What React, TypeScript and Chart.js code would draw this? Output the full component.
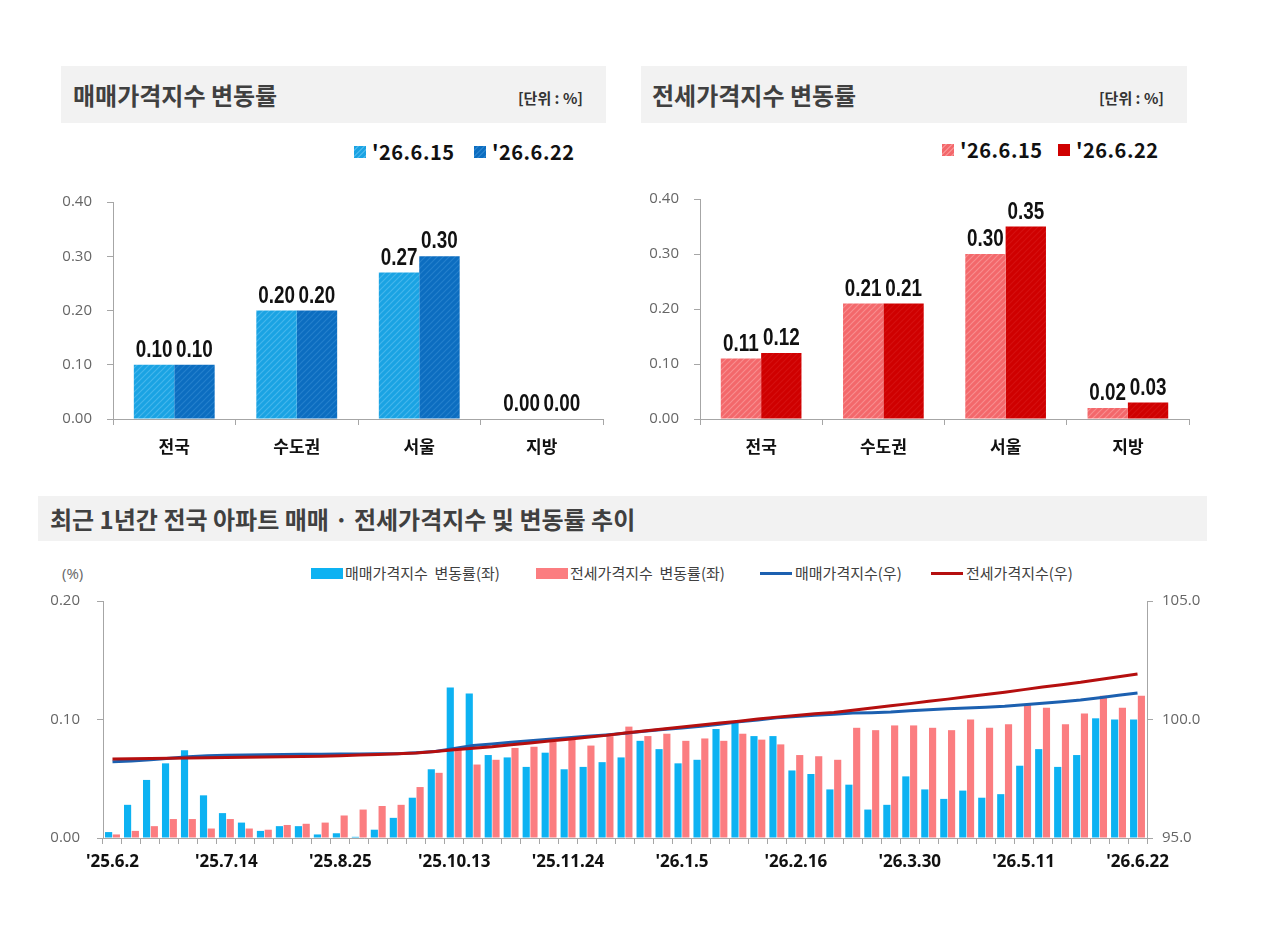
import React, { useEffect, useRef } from "react";
import { Chart, registerables } from "chart.js";

Chart.register(...registerables);

// 지역별 주간 변동률 (%)
const regions = ["전국", "수도권", "서울", "지방"];
const weekLabels = ["'26.6.15", "'26.6.22"];
const salePrevWeek = [0.1, 0.2, 0.27, 0.0];
const saleThisWeek = [0.1, 0.2, 0.3, 0.0];
const jeonsePrevWeek = [0.11, 0.21, 0.3, 0.02];
const jeonseThisWeek = [0.12, 0.21, 0.35, 0.03];

// 최근 1년간 전국 주간 추이
const trendWeeks = [
  "'25.6.2", "'25.6.9", "'25.6.16", "'25.6.23", "'25.6.30", "'25.7.7",
  "'25.7.14", "'25.7.21", "'25.7.28", "'25.8.4", "'25.8.11", "'25.8.18",
  "'25.8.25", "'25.9.1", "'25.9.8", "'25.9.15", "'25.9.22", "'25.9.29",
  "'25.10.13", "'25.10.20", "'25.10.27", "'25.11.3", "'25.11.10", "'25.11.17",
  "'25.11.24", "'25.12.1", "'25.12.8", "'25.12.15", "'25.12.22", "'25.12.29",
  "'26.1.5", "'26.1.12", "'26.1.19", "'26.1.26", "'26.2.2", "'26.2.9",
  "'26.2.16", "'26.2.23", "'26.3.2", "'26.3.9", "'26.3.16", "'26.3.23",
  "'26.3.30", "'26.4.6", "'26.4.13", "'26.4.20", "'26.4.27", "'26.5.4",
  "'26.5.11", "'26.5.18", "'26.5.25", "'26.6.1", "'26.6.8", "'26.6.15",
  "'26.6.22",
];
const trendTickWeeks = [
  "'25.6.2", "'25.7.14", "'25.8.25", "'25.10.13", "'25.11.24",
  "'26.1.5", "'26.2.16", "'26.3.30", "'26.5.11", "'26.6.22",
];
const saleRate = [
  0.005, 0.028, 0.049, 0.063, 0.074, 0.036, 0.021, 0.013, 0.006, 0.01, 0.01,
  0.003, 0.004, 0.001, 0.007, 0.017, 0.034, 0.058, 0.127, 0.122, 0.07, 0.068,
  0.06, 0.072, 0.058, 0.06, 0.064, 0.068, 0.082, 0.075, 0.063, 0.066, 0.092,
  0.097, 0.086, 0.086, 0.057, 0.054, 0.041, 0.045, 0.024, 0.028, 0.052, 0.041,
  0.033, 0.04, 0.034, 0.037, 0.061, 0.075, 0.06, 0.07, 0.101, 0.1, 0.1,
];
const jeonseRate = [
  0.003, 0.006, 0.01, 0.016, 0.016, 0.008, 0.016, 0.008, 0.007, 0.011, 0.012,
  0.013, 0.019, 0.024, 0.027, 0.028, 0.043, 0.055, 0.076, 0.062, 0.066, 0.076,
  0.077, 0.081, 0.083, 0.078, 0.086, 0.094, 0.086, 0.088, 0.082, 0.084, 0.082,
  0.088, 0.083, 0.079, 0.07, 0.069, 0.066, 0.093, 0.091, 0.095, 0.095, 0.093,
  0.091, 0.1, 0.093, 0.096, 0.113, 0.11, 0.096, 0.105, 0.12, 0.11, 0.12,
];
const saleIndex = [
  98.22, 98.25, 98.3, 98.36, 98.43, 98.47, 98.49, 98.5, 98.51, 98.52, 98.53,
  98.53, 98.54, 98.54, 98.55, 98.56, 98.6, 98.65, 98.78, 98.9, 98.97, 99.04,
  99.1, 99.17, 99.23, 99.29, 99.35, 99.42, 99.5, 99.58, 99.64, 99.71, 99.8,
  99.9, 99.98, 100.07, 100.13, 100.18, 100.22, 100.27, 100.29, 100.32, 100.37,
  100.41, 100.45, 100.49, 100.52, 100.56, 100.62, 100.69, 100.75, 100.82,
  100.92, 101.02, 101.12,
];
const jeonseIndex = [
  98.33, 98.34, 98.35, 98.36, 98.38, 98.39, 98.4, 98.41, 98.42, 98.43, 98.44,
  98.45, 98.47, 98.5, 98.52, 98.55, 98.59, 98.65, 98.72, 98.79, 98.85, 98.93,
  99.01, 99.09, 99.17, 99.25, 99.33, 99.43, 99.51, 99.6, 99.68, 99.77, 99.85,
  99.93, 100.02, 100.1, 100.17, 100.24, 100.3, 100.39, 100.49, 100.58, 100.67,
  100.77, 100.86, 100.96, 101.05, 101.15, 101.26, 101.37, 101.47, 101.57,
  101.69, 101.8, 101.92,
];

const KR = "'Noto Sans CJK KR', 'Noto Sans', sans-serif";
const NUM = "'Open Sans', 'Liberation Sans', sans-serif";
const AXIS = "#a6a6a6";

const SALE_LIGHT = { base: "#1aa3e3", stripe: "#45b6ec" };
const SALE_DARK = { base: "#0c6dc0", stripe: "#2580cc" };
const JEONSE_LIGHT = { base: "#f3686b", stripe: "#f88d8f" };
const JEONSE_DARK = { base: "#cf0000", stripe: "#d51010" };

function hatch(c: { base: string; stripe: string }) {
  const cv = document.createElement("canvas");
  cv.width = 6;
  cv.height = 6;
  const g = cv.getContext("2d")!;
  g.fillStyle = c.base;
  g.fillRect(0, 0, 6, 6);
  g.strokeStyle = c.stripe;
  g.lineWidth = 1.2;
  g.beginPath();
  g.moveTo(0, 6);
  g.lineTo(6, 0);
  g.moveTo(-1, 1);
  g.lineTo(1, -1);
  g.moveTo(5, 7);
  g.lineTo(7, 5);
  g.stroke();
  return g.createPattern(cv, "repeat")!;
}

function hatchCss(c: { base: string; stripe: string }) {
  return `repeating-linear-gradient(135deg, ${c.base} 0px, ${c.base} 2.5px, ${c.stripe} 2.5px, ${c.stripe} 4px)`;
}

// 막대 위 값 표시 (좁은 굵은 글꼴 느낌으로 가로 압축)
const valueLabels = {
  id: "valueLabels",
  afterDatasetsDraw(chart: any) {
    const ctx = chart.ctx;
    const squeeze = 0.82;
    chart.data.datasets.forEach((ds: any, di: number) => {
      const meta = chart.getDatasetMeta(di);
      meta.data.forEach((bar: any, i: number) => {
        ctx.save();
        ctx.font = "bold 23px 'Liberation Sans', Arial, sans-serif";
        ctx.fillStyle = "#111";
        ctx.textAlign = "center";
        ctx.textBaseline = "alphabetic";
        ctx.translate(bar.x, bar.y - 8);
        ctx.scale(squeeze, 1);
        ctx.fillText(Number(ds.data[i]).toFixed(2), 0, 0);
        ctx.restore();
      });
    });
  },
};

type BarProps = {
  left: number;
  top: number;
  width: number;
  height: number;
  axisWidth: number;
  padTop: number;
  padRight: number;
  prev: number[];
  cur: number[];
  light: { base: string; stripe: string };
  dark: { base: string; stripe: string };
};

function fixY(width: number) {
  return (s: any) => {
    s.width = width;
    s.paddingTop = 0;
    s.paddingBottom = 0;
  };
}

function RateBarChart(p: BarProps) {
  const ref = useRef<HTMLCanvasElement>(null);
  useEffect(() => {
    const chart = new Chart(ref.current!, {
      type: "bar",
      data: {
        labels: regions,
        datasets: [
          {
            label: weekLabels[0],
            data: p.prev,
            backgroundColor: hatch(p.light),
            categoryPercentage: 0.66,
            barPercentage: 1,
          },
          {
            label: weekLabels[1],
            data: p.cur,
            backgroundColor: hatch(p.dark),
            categoryPercentage: 0.66,
            barPercentage: 1,
          },
        ],
      },
      options: {
        animation: false,
        responsive: false,
        maintainAspectRatio: false,
        layout: { padding: { top: p.padTop, right: p.padRight, left: 0, bottom: 0 } },
        plugins: { legend: { display: false }, tooltip: { enabled: false } },
        scales: {
          x: {
            offset: true,
            grid: { offset: true, drawOnChartArea: false, drawTicks: true, tickLength: 6, color: AXIS },
            border: { color: AXIS },
            ticks: { color: "#111", font: { family: KR, size: 17, weight: "bold" }, padding: 11 },
            afterFit: (s: any) => {
              s.height = 51;
            },
          },
          y: {
            min: 0,
            max: 0.4,
            grid: { drawOnChartArea: false, drawTicks: true, tickLength: 6, color: AXIS },
            border: { color: AXIS },
            ticks: {
              stepSize: 0.1,
              color: "#666",
              font: { family: NUM, size: 15 },
              padding: 15,
              callback: (v: any) => Number(v).toFixed(2),
            },
            afterFit: fixY(p.axisWidth),
          },
        },
      } as any,
      plugins: [valueLabels],
    });
    return () => chart.destroy();
  }, []);
  return (
    <canvas
      ref={ref}
      width={p.width}
      height={p.height}
      style={{ position: "absolute", left: p.left, top: p.top, width: p.width, height: p.height, display: "block" }}
    />
  );
}

function TrendChart() {
  const ref = useRef<HTMLCanvasElement>(null);
  useEffect(() => {
    const chart = new Chart(ref.current!, {
      type: "bar",
      data: {
        labels: trendWeeks,
        datasets: [
          {
            type: "line",
            label: "전세가격지수(우)",
            data: jeonseIndex,
            yAxisID: "y1",
            borderColor: "#b50f0f",
            borderWidth: 3,
            pointRadius: 0,
            tension: 0,
            order: 0,
          },
          {
            type: "line",
            label: "매매가격지수(우)",
            data: saleIndex,
            yAxisID: "y1",
            borderColor: "#1c60b0",
            borderWidth: 3,
            pointRadius: 0,
            tension: 0,
            order: 1,
          },
          {
            label: "매매가격지수 변동률(좌)",
            data: saleRate,
            yAxisID: "y",
            backgroundColor: "#0db2f2",
            categoryPercentage: 0.82,
            barPercentage: 0.92,
            order: 2,
          },
          {
            label: "전세가격지수 변동률(좌)",
            data: jeonseRate,
            yAxisID: "y",
            backgroundColor: "#fb7d80",
            categoryPercentage: 0.82,
            barPercentage: 0.92,
            order: 2,
          },
        ],
      },
      options: {
        animation: false,
        responsive: false,
        maintainAspectRatio: false,
        layout: { padding: { top: 11, right: 0, left: 0, bottom: 0 } },
        plugins: { legend: { display: false }, tooltip: { enabled: false } },
        scales: {
          x: {
            offset: true,
            grid: { offset: true, drawOnChartArea: false, drawTicks: true, tickLength: 6, color: AXIS },
            border: { color: AXIS },
            ticks: {
              autoSkip: false,
              maxRotation: 0,
              minRotation: 0,
              color: "#111",
              font: { family: "'Noto Sans', sans-serif", size: 17, weight: "bold" },
              padding: 8,
              callback: (_v: any, i: number) =>
                trendTickWeeks.includes(trendWeeks[i]) ? trendWeeks[i] : "",
            },
            afterFit: (s: any) => {
              s.height = 42;
            },
          },
          y: {
            position: "left",
            min: 0,
            max: 0.2,
            grid: { drawOnChartArea: false, drawTicks: true, tickLength: 6, color: AXIS },
            border: { color: AXIS },
            ticks: {
              stepSize: 0.1,
              color: "#666",
              font: { family: NUM, size: 15 },
              padding: 17,
              callback: (v: any) => Number(v).toFixed(2),
            },
            afterFit: fixY(63),
          },
          y1: {
            position: "right",
            min: 95,
            max: 105,
            grid: { drawOnChartArea: false, drawTicks: true, tickLength: 6, color: AXIS },
            border: { color: AXIS },
            ticks: {
              stepSize: 5,
              color: "#666",
              font: { family: NUM, size: 15 },
              padding: 9,
              callback: (v: any) => Number(v).toFixed(1),
            },
            afterFit: fixY(63),
          },
        },
      } as any,
    });
    return () => chart.destroy();
  }, []);
  return (
    <canvas
      ref={ref}
      width={1170}
      height={290}
      style={{ position: "absolute", left: 40, top: 590, width: 1170, height: 290, display: "block" }}
    />
  );
}

function Header(p: { left: number; top: number; width: number; height: number; title: string; unit?: string; titlePad: number }) {
  return (
    <div
      style={{
        position: "absolute",
        left: p.left,
        top: p.top,
        width: p.width,
        height: p.height,
        background: "#f2f2f2",
        fontFamily: KR,
      }}
    >
      <div
        style={{
          position: "absolute",
          left: p.titlePad,
          top: 0,
          height: p.height,
          lineHeight: `${p.height}px`,
          fontSize: 24,
          fontWeight: 700,
          color: "#404040",
          whiteSpace: "nowrap",
        }}
      >
        {p.title}
      </div>
      {p.unit && (
        <div
          style={{
            position: "absolute",
            right: 23,
            top: 3,
            height: p.height,
            lineHeight: `${p.height}px`,
            fontSize: 15,
            fontWeight: 700,
            color: "#333",
            whiteSpace: "nowrap",
          }}
        >
          {p.unit}
        </div>
      )}
    </div>
  );
}

function WeekLegend(p: { x1: number; x2: number; y: number; light: any; dark: any; solidDark?: boolean }) {
  const item = (x: number, bg: string, text: string) => (
    <div style={{ position: "absolute", left: x, top: p.y - 12, height: 24, display: "flex", alignItems: "center" }}>
      <div style={{ width: 12, height: 12, background: bg, marginRight: 6 }} />
      <span style={{ fontFamily: KR, fontSize: 20, fontWeight: 700, color: "#111", letterSpacing: 0.5, lineHeight: "24px" }}>
        {text}
      </span>
    </div>
  );
  return (
    <>
      {item(p.x1, hatchCss(p.light), weekLabels[0])}
      {item(p.x2, p.solidDark ? p.dark.base : hatchCss(p.dark), weekLabels[1])}
    </>
  );
}

function TrendLegend() {
  const text = (s: string) => (
    <span style={{ fontFamily: KR, fontSize: 15, color: "#404040", whiteSpace: "pre", lineHeight: "20px" }}>{s}</span>
  );
  const box = (x: number, color: string, label: string) => (
    <div style={{ position: "absolute", left: x, top: 563, height: 20, display: "flex", alignItems: "center" }}>
      <div style={{ width: 32, height: 11, background: color, marginRight: 2 }} />
      {text(label)}
    </div>
  );
  const line = (x: number, color: string, label: string) => (
    <div style={{ position: "absolute", left: x, top: 563, height: 20, display: "flex", alignItems: "center" }}>
      <div style={{ width: 32, height: 3, background: color, marginRight: 3 }} />
      {text(label)}
    </div>
  );
  return (
    <>
      <div style={{ position: "absolute", left: 62, top: 563, lineHeight: "20px", fontFamily: NUM, fontSize: 15, color: "#666" }}>
        (%)
      </div>
      {box(311, "#0db2f2", "매매가격지수  변동률(좌)")}
      {box(536, "#fb7d80", "전세가격지수  변동률(좌)")}
      {line(760, "#1c60b0", "매매가격지수(우)")}
      {line(931, "#b50f0f", "전세가격지수(우)")}
    </>
  );
}

export default function App() {
  return (
    <div style={{ position: "absolute", left: 0, top: 0, width: 1280, height: 944, background: "#fff", overflow: "hidden" }}>
      <Header left={61} top={66} width={545} height={57} title="매매가격지수 변동률" unit="[단위 : %]" titlePad={12} />
      <Header left={641} top={66} width={546} height={57} title="전세가격지수 변동률" unit="[단위 : %]" titlePad={11} />
      <WeekLegend x1={354} x2={474} y={152} light={SALE_LIGHT} dark={SALE_DARK} />
      <WeekLegend x1={942} x2={1058} y={150} light={JEONSE_LIGHT} dark={JEONSE_DARK} solidDark />
      <RateBarChart
        left={40}
        top={180}
        width={580}
        height={290}
        axisWidth={73}
        padTop={22}
        padRight={17}
        prev={salePrevWeek}
        cur={saleThisWeek}
        light={SALE_LIGHT}
        dark={SALE_DARK}
      />
      <RateBarChart
        left={620}
        top={177}
        width={580}
        height={293}
        axisWidth={80}
        padTop={22}
        padRight={11}
        prev={jeonsePrevWeek}
        cur={jeonseThisWeek}
        light={JEONSE_LIGHT}
        dark={JEONSE_DARK}
      />
      <Header left={38} top={496} width={1169} height={45} title="최근 1년간 전국 아파트 매매 · 전세가격지수 및 변동률 추이" titlePad={12} />
      <TrendLegend />
      <TrendChart />
    </div>
  );
}
